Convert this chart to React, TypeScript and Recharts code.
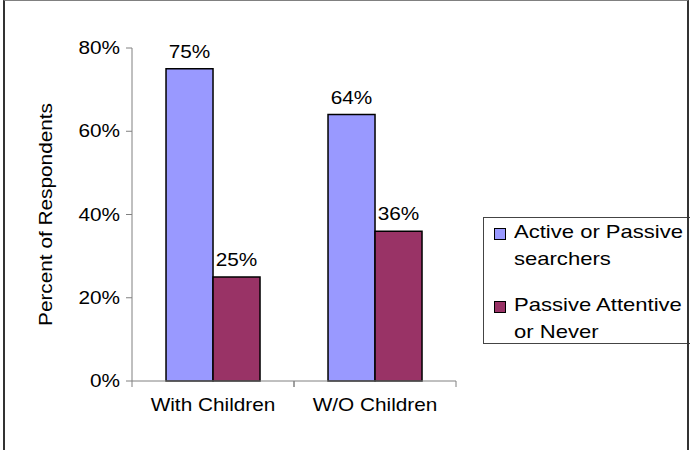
import React from "react"
import { BarChart, Bar, XAxis, YAxis, Legend, LabelList } from "recharts"

const groups = ["With Children", "W/O Children"]
const activeSearchers = [75, 64]
const passiveNever = [25, 36]
const yTicks = [0, 20, 40, 60, 80]

const SERIES = [
  { key: "active", name: "Active or Passive searchers", color: "#9999FF" },
  { key: "passive", name: "Passive Attentive or Never", color: "#993366" },
]

const data = groups.map((group, i) => ({
  group,
  active: activeSearchers[i],
  passive: passiveNever[i],
}))

const W = 690
const H = 450
const MARGIN = { top: 48, right: 234, bottom: 39, left: 0 }
const Y_AXIS_W = 132
const X_AXIS_H = 30
const PLOT_W = W - MARGIN.left - MARGIN.right - Y_AXIS_W
const FONT = "'Liberation Sans', Arial, sans-serif"
// the chart's font runs a little wider than Arial
const SX = 1.155

function WideText({ x, y, anchor = "middle", rotate = 0, size = 18, children }: any) {
  return (
    <text
      transform={`translate(${x},${y}) rotate(${rotate}) scale(${SX},1)`}
      textAnchor={anchor}
      fontFamily={FONT}
      fontSize={size}
      fill="#000"
    >
      {children}
    </text>
  )
}

function YTick({ x, y, payload }: any) {
  return (
    <WideText x={x} y={y + 6} anchor="end">
      {`${payload.value}%`}
    </WideText>
  )
}

// category label plus Excel-style tick marks at the band edges
function XTick({ x, y, payload }: any) {
  const half = PLOT_W / groups.length / 2
  return (
    <g>
      <line x1={x - half} x2={x - half} y1={y} y2={y + 6} stroke="#808080" />
      <line x1={x + half} x2={x + half} y1={y} y2={y + 6} stroke="#808080" />
      <WideText x={x} y={y + 30}>
        {payload.value}
      </WideText>
    </g>
  )
}

function ValueLabel({ x, y, width, value }: any) {
  return (
    <WideText x={x + width / 2} y={y - 11}>
      {`${value}%`}
    </WideText>
  )
}

function YLabel({ viewBox }: any) {
  const cy = viewBox.y + viewBox.height / 2
  return (
    <WideText x={52} y={cy} rotate={-90}>
      Percent of Respondents
    </WideText>
  )
}

function LegendBox() {
  return (
    <div
      style={{
        width: 210,
        height: 127,
        boxSizing: "border-box",
        border: "1px solid #444",
        background: "#fff",
        fontFamily: FONT,
        fontSize: 19,
        lineHeight: "27px",
        overflow: "hidden",
        color: "#000",
        textAlign: "left",
      }}
    >
      {SERIES.map((s, i) => (
        <div key={s.key} style={{ position: "relative", marginTop: i === 0 ? 0 : 19 }}>
          <div
            style={{
              position: "absolute",
              left: 10,
              top: 10,
              width: 10,
              height: 10,
              background: s.color,
              border: "1px solid #000",
            }}
          />
          <span
            style={{
              display: "inline-block",
              marginLeft: 30,
              width: 152,
              transform: "scaleX(1.16)",
              transformOrigin: "left",
            }}
          >
            {s.name}
          </span>
        </div>
      ))}
    </div>
  )
}

export default function App() {
  return (
    <div
      style={{
        position: "absolute",
        left: 0,
        top: 0,
        width: W,
        height: H,
        overflow: "hidden",
        background: "#fff",
      }}
    >
      <BarChart
        width={W}
        height={H}
        data={data}
        margin={MARGIN}
        barCategoryGap="21%"
        barGap={0}
      >
        <XAxis
          dataKey="group"
          height={X_AXIS_H}
          axisLine={{ stroke: "#808080" }}
          tickLine={false}
          tickSize={0}
          tickMargin={0}
          tick={<XTick />}
          interval={0}
        />
        <YAxis
          width={Y_AXIS_W}
          domain={[0, 80]}
          ticks={yTicks}
          axisLine={{ stroke: "#808080" }}
          tickLine={{ stroke: "#808080" }}
          tickSize={6}
          tickMargin={6}
          tick={<YTick />}
          label={<YLabel />}
        />
        {/* horizontal + middle keeps the legend from eating plot space */}
        <Legend
          layout="horizontal"
          verticalAlign="middle"
          align="center"
          content={<LegendBox />}
          wrapperStyle={{ position: "absolute", left: 483, top: 217, width: 210 }}
        />
        {SERIES.map((s) => (
          <Bar
            key={s.key}
            dataKey={s.key}
            name={s.name}
            fill={s.color}
            stroke="#000"
            strokeWidth={1.5}
            isAnimationActive={false}
          >
            <LabelList dataKey={s.key} content={<ValueLabel />} />
          </Bar>
        ))}
      </BarChart>
      <div
        style={{
          position: "absolute",
          left: 3,
          top: 0,
          width: 686,
          height: H + 10,
          boxSizing: "border-box",
          borderTop: "1px solid #808080",
          borderLeft: "2px solid #333",
          borderRight: "2px solid #333",
          pointerEvents: "none",
        }}
      />
    </div>
  )
}
